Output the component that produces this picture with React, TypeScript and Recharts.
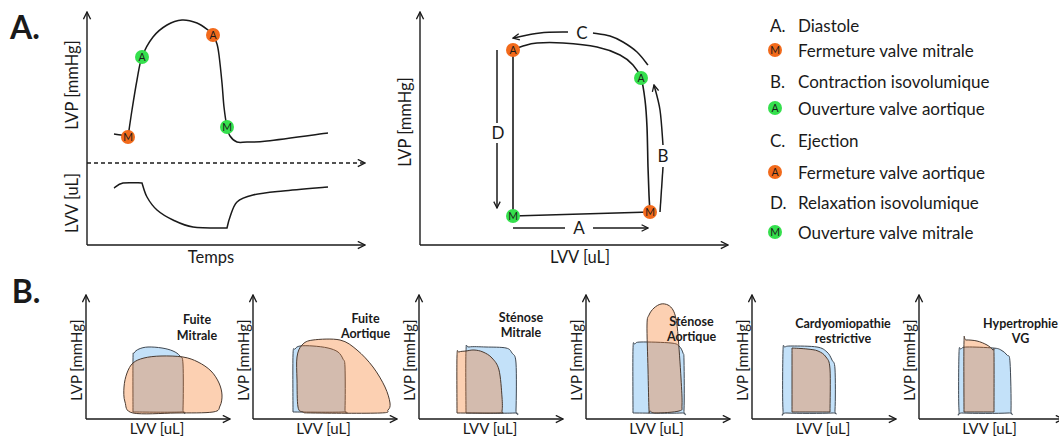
import React from "react";
import {
  ComposedChart,
  Line,
  Area,
  Scatter,
  XAxis,
  YAxis,
  ReferenceLine,
} from "recharts";

/*
  A. LEFT : LVP AND LVV AGAINST TIME
  x = time, y = height above the time axis
*/

const lvpTrace = [
  { x: 27, y: 111 }, { x: 34, y: 110 }, { x: 41, y: 108 }, { x: 41, y: 108 },
  { x: 45, y: 135 }, { x: 50, y: 165 }, { x: 55, y: 188 }, { x: 66, y: 208 },
  { x: 80, y: 220 }, { x: 95, y: 225 }, { x: 110, y: 222 }, { x: 121, y: 215 },
  { x: 126, y: 210 }, { x: 130, y: 201 }, { x: 132, y: 190 }, { x: 135, y: 162 },
  { x: 137, y: 138 }, { x: 140, y: 118 }, { x: 143, y: 109 }, { x: 150, y: 103 },
  { x: 160, y: 103 }, { x: 180, y: 104 }, { x: 241, y: 112 },
];

const lvvTrace = [
  { x: 27, y: 57 }, { x: 36, y: 62 }, { x: 55, y: 62 }, { x: 55, y: 62 },
  { x: 60, y: 48 }, { x: 70, y: 35 }, { x: 86, y: 25 }, { x: 106, y: 18 },
  { x: 140, y: 17 }, { x: 140, y: 17 }, { x: 143, y: 28 }, { x: 150, y: 43 },
  { x: 166, y: 50 }, { x: 196, y: 54 }, { x: 241, y: 58 },
];

const timeClosings = [
  { x: 41, y: 108, label: "M" },
  { x: 126, y: 210, label: "A" },
];

const timeOpenings = [
  { x: 55, y: 188, label: "A" },
  { x: 140, y: 118, label: "M" },
];

const separatorLevel = 82;

/*
  A. RIGHT : PRESSURE-VOLUME LOOP
*/

const pvLoop = [
  { x: 93, y: 29 }, { x: 93, y: 29 }, { x: 230, y: 33 }, { x: 230, y: 33 },
  { x: 229, y: 50 }, { x: 228, y: 78 }, { x: 227, y: 118 }, { x: 225, y: 145 },
  { x: 221, y: 167 }, { x: 213, y: 180 }, { x: 200, y: 190 }, { x: 177, y: 198 },
  { x: 143, y: 202 }, { x: 117, y: 202 }, { x: 103, y: 199 }, { x: 93, y: 195 },
  { x: 93, y: 195 }, { x: 93, y: 29 },
];

const loopClosings = [
  { x: 230, y: 33, label: "M" },
  { x: 93, y: 195, label: "A" },
];

const loopOpenings = [
  { x: 93, y: 29, label: "M" },
  { x: 221, y: 167, label: "A" },
];

const ejectionTail = [
  { x: 228, y: 180 }, { x: 217, y: 193 }, { x: 203, y: 203 },
  { x: 190, y: 209 }, { x: 173, y: 212 },
];
const ejectionHead = [{ x: 148, y: 213 }, { x: 120, y: 212 }, { x: 93, y: 207 }];
const contractionTail = [{ x: 240, y: 33 }, { x: 243, y: 78 }];
const contractionHead = [{ x: 243, y: 100 }, { x: 240, y: 135 }, { x: 234, y: 160 }];
const relaxationTail = [{ x: 77, y: 195 }, { x: 77, y: 122 }];
const relaxationHead = [{ x: 77, y: 102 }, { x: 77, y: 37 }];
const fillingTail = [{ x: 93, y: 17 }, { x: 145, y: 17 }];
const fillingHead = [{ x: 173, y: 17 }, { x: 228, y: 17 }];

const phaseLetters = [
  { x: 162, y: 212, label: "C" },
  { x: 243, y: 89, label: "B" },
  { x: 78, y: 112, label: "D" },
  { x: 159, y: 17, label: "A" },
];

/*
  LEGEND
*/

const legendRows = [
  { key: "A.", text: "Diastole" },
  { badge: "M", kind: "closing", text: "Fermeture valve mitrale" },
  { key: "B.", text: "Contraction isovolumique" },
  { badge: "A", kind: "opening", text: "Ouverture valve aortique" },
  { key: "C.", text: "Ejection" },
  { badge: "A", kind: "closing", text: "Fermeture valve aortique" },
  { key: "D.", text: "Relaxation isovolumique" },
  { badge: "M", kind: "opening", text: "Ouverture valve mitrale" },
];

/*
  B. PATHOLOGICAL LOOPS (normal = blue, pathological = orange)
*/

const bTitles = [
  ["Fuite", "Mitrale"],
  ["Fuite", "Aortique"],
  ["Sténose", "Mitrale"],
  ["Sténose", "Aortique"],
  ["Cardyomiopathie", "restrictive"],
  ["Hypertrophie", "VG"],
];

const mitralLeakNormal = [
  { x: 47, y: 7 }, { x: 47, y: 7 }, { x: 47, y: 60 }, { x: 48, y: 66 },
  { x: 53, y: 70 }, { x: 62, y: 72 }, { x: 76, y: 71 }, { x: 87, y: 68 },
  { x: 94, y: 63 }, { x: 97, y: 55 }, { x: 97, y: 10 }, { x: 95, y: 7 },
  { x: 47, y: 7 },
];
const mitralLeakLoop = [
  { x: 47, y: 6 }, { x: 90, y: 6 }, { x: 127, y: 7 }, { x: 134, y: 13 },
  { x: 136, y: 24 }, { x: 133, y: 36 }, { x: 125, y: 48 }, { x: 112, y: 57 },
  { x: 97, y: 62 }, { x: 75, y: 63 }, { x: 58, y: 61 }, { x: 47, y: 56 },
  { x: 41, y: 46 }, { x: 38, y: 32 }, { x: 39, y: 17 }, { x: 47, y: 6 },
];

const aorticLeakNormal = [
  { x: 40, y: 7 }, { x: 40, y: 7 }, { x: 40, y: 64 }, { x: 42, y: 70 },
  { x: 47, y: 73 }, { x: 60, y: 73 }, { x: 75, y: 71 }, { x: 85, y: 67 },
  { x: 90, y: 60 }, { x: 92, y: 52 }, { x: 92, y: 10 }, { x: 90, y: 7 },
  { x: 40, y: 7 },
];
const aorticLeakLoop = [
  { x: 60, y: 6 }, { x: 127, y: 6 }, { x: 135, y: 9 }, { x: 137, y: 16 },
  { x: 132, y: 32 }, { x: 120, y: 52 }, { x: 104, y: 69 }, { x: 87, y: 79 },
  { x: 60, y: 79 }, { x: 49, y: 74 }, { x: 44, y: 62 }, { x: 44, y: 39 },
  { x: 45, y: 12 }, { x: 50, y: 7 }, { x: 60, y: 6 },
];

const mitralStenosisNormal = [
  { x: 47, y: 6 }, { x: 47, y: 6 }, { x: 47, y: 68 }, { x: 50, y: 72 },
  { x: 67, y: 72 }, { x: 87, y: 71 }, { x: 93, y: 66 }, { x: 97, y: 56 },
  { x: 97, y: 9 }, { x: 95, y: 6 }, { x: 47, y: 6 },
];
const mitralStenosisLoop = [
  { x: 38, y: 6 }, { x: 38, y: 6 }, { x: 38, y: 63 }, { x: 40, y: 67 },
  { x: 47, y: 68 }, { x: 55, y: 69 }, { x: 64, y: 67 }, { x: 73, y: 61 },
  { x: 80, y: 49 }, { x: 83, y: 22 }, { x: 83, y: 8 }, { x: 80, y: 6 },
  { x: 38, y: 6 },
];

const aorticStenosisNormal = [
  { x: 47, y: 6 }, { x: 47, y: 6 }, { x: 47, y: 70 }, { x: 49, y: 75 },
  { x: 55, y: 77 }, { x: 85, y: 76 }, { x: 93, y: 73 }, { x: 97, y: 66 },
  { x: 98, y: 58 }, { x: 98, y: 9 }, { x: 95, y: 6 }, { x: 47, y: 6 },
];
const aorticStenosisLoop = [
  { x: 63, y: 9 }, { x: 62, y: 50 }, { x: 61, y: 94 }, { x: 63, y: 104 },
  { x: 68, y: 111 }, { x: 75, y: 115 }, { x: 82, y: 114 }, { x: 87, y: 109 },
  { x: 90, y: 100 }, { x: 92, y: 84 }, { x: 95, y: 41 }, { x: 96, y: 14 },
  { x: 93, y: 8 }, { x: 70, y: 6 }, { x: 64, y: 8 }, { x: 63, y: 9 },
];

const restrictiveNormal = [
  { x: 31, y: 9 }, { x: 31, y: 68 }, { x: 33, y: 72 }, { x: 40, y: 73 },
  { x: 65, y: 72 }, { x: 75, y: 67 }, { x: 80, y: 59 }, { x: 83, y: 50 },
  { x: 83, y: 9 }, { x: 80, y: 6 }, { x: 35, y: 6 }, { x: 31, y: 9 },
];
const restrictiveLoop = [
  { x: 40, y: 7 }, { x: 40, y: 7 }, { x: 40, y: 71 }, { x: 40, y: 71 },
  { x: 55, y: 70 }, { x: 66, y: 68 }, { x: 74, y: 62 }, { x: 78, y: 50 },
  { x: 78, y: 7 }, { x: 78, y: 7 }, { x: 40, y: 7 },
];

const hypertrophyNormal = [
  { x: 40, y: 9 }, { x: 40, y: 66 }, { x: 42, y: 70 }, { x: 48, y: 72 },
  { x: 74, y: 71 }, { x: 82, y: 69 }, { x: 88, y: 64 }, { x: 91, y: 57 },
  { x: 92, y: 9 }, { x: 89, y: 6 }, { x: 44, y: 6 }, { x: 40, y: 9 },
];
const hypertrophyLoop = [
  { x: 45, y: 7 }, { x: 45, y: 7 }, { x: 45, y: 77 }, { x: 47, y: 79 },
  { x: 58, y: 78 }, { x: 68, y: 74 }, { x: 74, y: 69 }, { x: 75, y: 65 },
  { x: 75, y: 7 }, { x: 75, y: 7 }, { x: 45, y: 7 },
];

const bNormals = [
  mitralLeakNormal, aorticLeakNormal, mitralStenosisNormal,
  aorticStenosisNormal, restrictiveNormal, hypertrophyNormal,
];
const bLoops = [
  mitralLeakLoop, aorticLeakLoop, mitralStenosisLoop,
  aorticStenosisLoop, restrictiveLoop, hypertrophyLoop,
];

/*
  STYLE
*/

const FONT = "Lato, 'Open Sans', sans-serif";
const INK = "#1a1a1a";
const ORANGE = "#f26a1b";
const GREEN = "#35e04d";
const BLUE_FILL = "#c3e1f9";
const ORANGE_FILL = "rgba(245,110,15,0.32)";

// catmull-rom through the points, repeated point = corner
const smoothCurve = (context: any) => {
  let pts: number[][] = [];
  let line = NaN;
  return {
    areaStart() { line = 0; },
    areaEnd() { line = NaN; },
    lineStart() { pts = []; },
    point(x: number, y: number) { pts.push([+x, +y]); },
    lineEnd() {
      const n = pts.length;
      if (n > 0) {
        if (line) context.lineTo(pts[0][0], pts[0][1]);
        else context.moveTo(pts[0][0], pts[0][1]);
        const closed =
          n > 2 && pts[0][0] === pts[n - 1][0] && pts[0][1] === pts[n - 1][1];
        for (let i = 0; i < n - 1; i++) {
          const p1 = pts[i];
          const p2 = pts[i + 1];
          if (p1[0] === p2[0] && p1[1] === p2[1]) continue;
          const p0 = i > 0 ? pts[i - 1] : closed ? pts[n - 2] : p1;
          const p3 = i < n - 2 ? pts[i + 2] : closed ? pts[1] : p2;
          context.bezierCurveTo(
            p1[0] + (p2[0] - p0[0]) / 6,
            p1[1] + (p2[1] - p0[1]) / 6,
            p2[0] - (p3[0] - p1[0]) / 6,
            p2[1] - (p3[1] - p1[1]) / 6,
            p2[0],
            p2[1]
          );
        }
      }
      if (line === 1) context.closePath();
      line = 1 - line;
    },
  };
};

const axisLine = { stroke: INK, strokeWidth: 1.4 };

// axes are 1px wide boxes (a 0px axis is not drawn), margins compensate
const axes = (xMax: number, yMax: number) => [
  <XAxis
    key="x"
    type="number"
    dataKey="x"
    domain={[0, xMax]}
    height={1}
    tick={false}
    tickLine={false}
    axisLine={{ ...axisLine, markerEnd: "url(#axisHead)" }}
  />,
  <YAxis
    key="y"
    type="number"
    domain={[0, yMax]}
    width={1}
    tick={false}
    tickLine={false}
    axisLine={{ ...axisLine, markerStart: "url(#axisHead)" }}
  />,
];

const frameMargin = { top: 10, right: 10, bottom: 9, left: 9 };

const badge = (color: string) => (p: any) => (
  <g>
    <circle cx={p.cx} cy={p.cy} r={7} fill={color} />
    <text
      x={p.cx}
      y={p.cy + 3.6}
      textAnchor="middle"
      fontSize={10.5}
      fontFamily={FONT}
      fill={INK}
    >
      {p.payload.label}
    </text>
  </g>
);

const letter = (p: any) => (
  <text
    x={p.cx}
    y={p.cy + 6}
    textAnchor="middle"
    fontSize={17}
    fontFamily={FONT}
    fill={INK}
  >
    {p.payload.label}
  </text>
);

const trace = (key: string, data: any[], head = false, width = 1.5) => (
  <Line
    key={key}
    data={data}
    dataKey="y"
    type={smoothCurve as any}
    stroke={INK}
    strokeWidth={width}
    dot={false}
    activeDot={false}
    markerEnd={head ? "url(#phaseHead)" : undefined}
    isAnimationActive={false}
  />
);

const Txt = ({ x, y, size = 15, bold = false, rotate = 0, left = false, children }: any) => (
  <div
    style={{
      position: "absolute",
      left: x,
      top: y,
      transform: `translate(${left ? "0" : "-50%"}, -50%) rotate(${rotate}deg)`,
      fontFamily: FONT,
      fontSize: size,
      fontWeight: bold ? 700 : 400,
      lineHeight: 1,
      whiteSpace: "nowrap",
      color: INK,
    }}
  >
    {children}
  </div>
);

const legendY = [25, 50, 81, 108, 140, 172, 202, 232];
const titleDx = [111, 113, 102, 106, 91, 102];
const titleY = [[320, 336], [319, 334], [318, 333], [322, 337], [324, 339], [324, 339]];

const App = () => {
  return (
    <div
      style={{
        position: "absolute",
        left: 0,
        top: 0,
        width: 1059,
        height: 437,
        overflow: "hidden",
        background: "#fff",
      }}
    >
      <svg width={0} height={0} style={{ position: "absolute" }}>
        <defs>
          <marker
            id="axisHead"
            viewBox="0 0 10 10"
            refX={9}
            refY={5}
            markerWidth={9}
            markerHeight={9}
            markerUnits="userSpaceOnUse"
            orient="auto-start-reverse"
          >
            <path d="M1,1 L9,5 L1,9" fill="none" stroke={INK} strokeWidth={1.5} />
          </marker>
          <marker
            id="phaseHead"
            viewBox="0 0 10 10"
            refX={9}
            refY={5}
            markerWidth={8}
            markerHeight={8}
            markerUnits="userSpaceOnUse"
            orient="auto"
          >
            <path d="M1,1 L9,5 L1,9" fill="none" stroke={INK} strokeWidth={1.6} />
          </marker>
        </defs>
      </svg>

      {/* A. TIME PLOT */}

      <Txt x={25} y={27} size={32} bold>A.</Txt>

      <div style={{ position: "absolute", left: 77, top: 2 }}>
        <ComposedChart width={298} height={253} margin={frameMargin}>
          {axes(278, 233)}
          <ReferenceLine
            y={separatorLevel}
            stroke={INK}
            strokeWidth={1.3}
            strokeDasharray="4 3"
            markerEnd="url(#axisHead)"
          />
          {trace("lvp", lvpTrace)}
          {trace("lvv", lvvTrace)}
          <Scatter data={timeClosings} dataKey="y" shape={badge(ORANGE)} isAnimationActive={false} />
          <Scatter data={timeOpenings} dataKey="y" shape={badge(GREEN)} isAnimationActive={false} />
        </ComposedChart>
      </div>

      <Txt x={72} y={85} size={16.5} rotate={-90}>LVP [mmHg]</Txt>
      <Txt x={72} y={203} size={16.5} rotate={-90}>LVV [uL]</Txt>
      <Txt x={211} y={257} size={16.5}>Temps</Txt>

      {/* A. PV LOOP */}

      <div style={{ position: "absolute", left: 410, top: 2 }}>
        <ComposedChart width={328} height={253} margin={frameMargin}>
          {axes(308, 233)}
          {trace("loop", pvLoop, false, 1.6)}
          {trace("ejT", ejectionTail)}
          {trace("ejH", ejectionHead, true)}
          {trace("coT", contractionTail)}
          {trace("coH", contractionHead, true)}
          {trace("reT", relaxationTail)}
          {trace("reH", relaxationHead, true)}
          {trace("fiT", fillingTail)}
          {trace("fiH", fillingHead, true)}
          <Scatter data={loopClosings} dataKey="y" shape={badge(ORANGE)} isAnimationActive={false} />
          <Scatter data={loopOpenings} dataKey="y" shape={badge(GREEN)} isAnimationActive={false} />
          <Scatter data={phaseLetters} dataKey="y" shape={letter} isAnimationActive={false} />
        </ComposedChart>
      </div>

      <Txt x={405} y={122} size={16.5} rotate={-90}>LVP [mmHg]</Txt>
      <Txt x={580} y={257} size={16.5}>LVV [uL]</Txt>

      {/* LEGEND */}

      {legendRows.map((row, i) => (
        <React.Fragment key={i}>
          {row.key ? (
            <Txt x={770} y={legendY[i]} size={17} left>{row.key}</Txt>
          ) : (
            <div
              style={{
                position: "absolute",
                left: 768,
                top: legendY[i] - 7,
                width: 14,
                height: 14,
                borderRadius: 7,
                background: row.kind === "closing" ? ORANGE : GREEN,
                fontFamily: FONT,
                fontSize: 10.5,
                lineHeight: "14px",
                textAlign: "center",
                color: INK,
              }}
            >
              {row.badge}
            </div>
          )}
          <Txt x={798} y={legendY[i]} size={17} left>{row.text}</Txt>
        </React.Fragment>
      ))}

      {/* B. PATHOLOGIES */}

      <Txt x={26} y={291} size={32} bold>B.</Txt>

      {bTitles.map((title, i) => {
        const x0 = 86 + i * 166.5;
        return (
          <React.Fragment key={i}>
            <div style={{ position: "absolute", left: x0 - 10, top: 285 }}>
              <ComposedChart width={164} height={144} margin={frameMargin}>
                {axes(144, 124)}
                <Area
                  data={bNormals[i]}
                  dataKey="y"
                  type={smoothCurve as any}
                  fill={BLUE_FILL}
                  fillOpacity={1}
                  stroke="#3d4650"
                  strokeWidth={1}
                  dot={false}
                  activeDot={false}
                  isAnimationActive={false}
                />
                <Area
                  data={bLoops[i]}
                  dataKey="y"
                  type={smoothCurve as any}
                  fill={ORANGE_FILL}
                  fillOpacity={1}
                  stroke="#4a3a30"
                  strokeWidth={1}
                  dot={false}
                  activeDot={false}
                  isAnimationActive={false}
                />
              </ComposedChart>
            </div>
            <Txt x={x0 - 10} y={360} size={15} rotate={-90}>LVP [mmHg]</Txt>
            <Txt x={x0 + 71} y={428} size={15}>LVV [uL]</Txt>
            <Txt x={x0 + titleDx[i]} y={titleY[i][0]} size={12.5} bold>{title[0]}</Txt>
            <Txt x={x0 + titleDx[i]} y={titleY[i][1]} size={12.5} bold>{title[1]}</Txt>
          </React.Fragment>
        );
      })}
    </div>
  );
};

export default App;
